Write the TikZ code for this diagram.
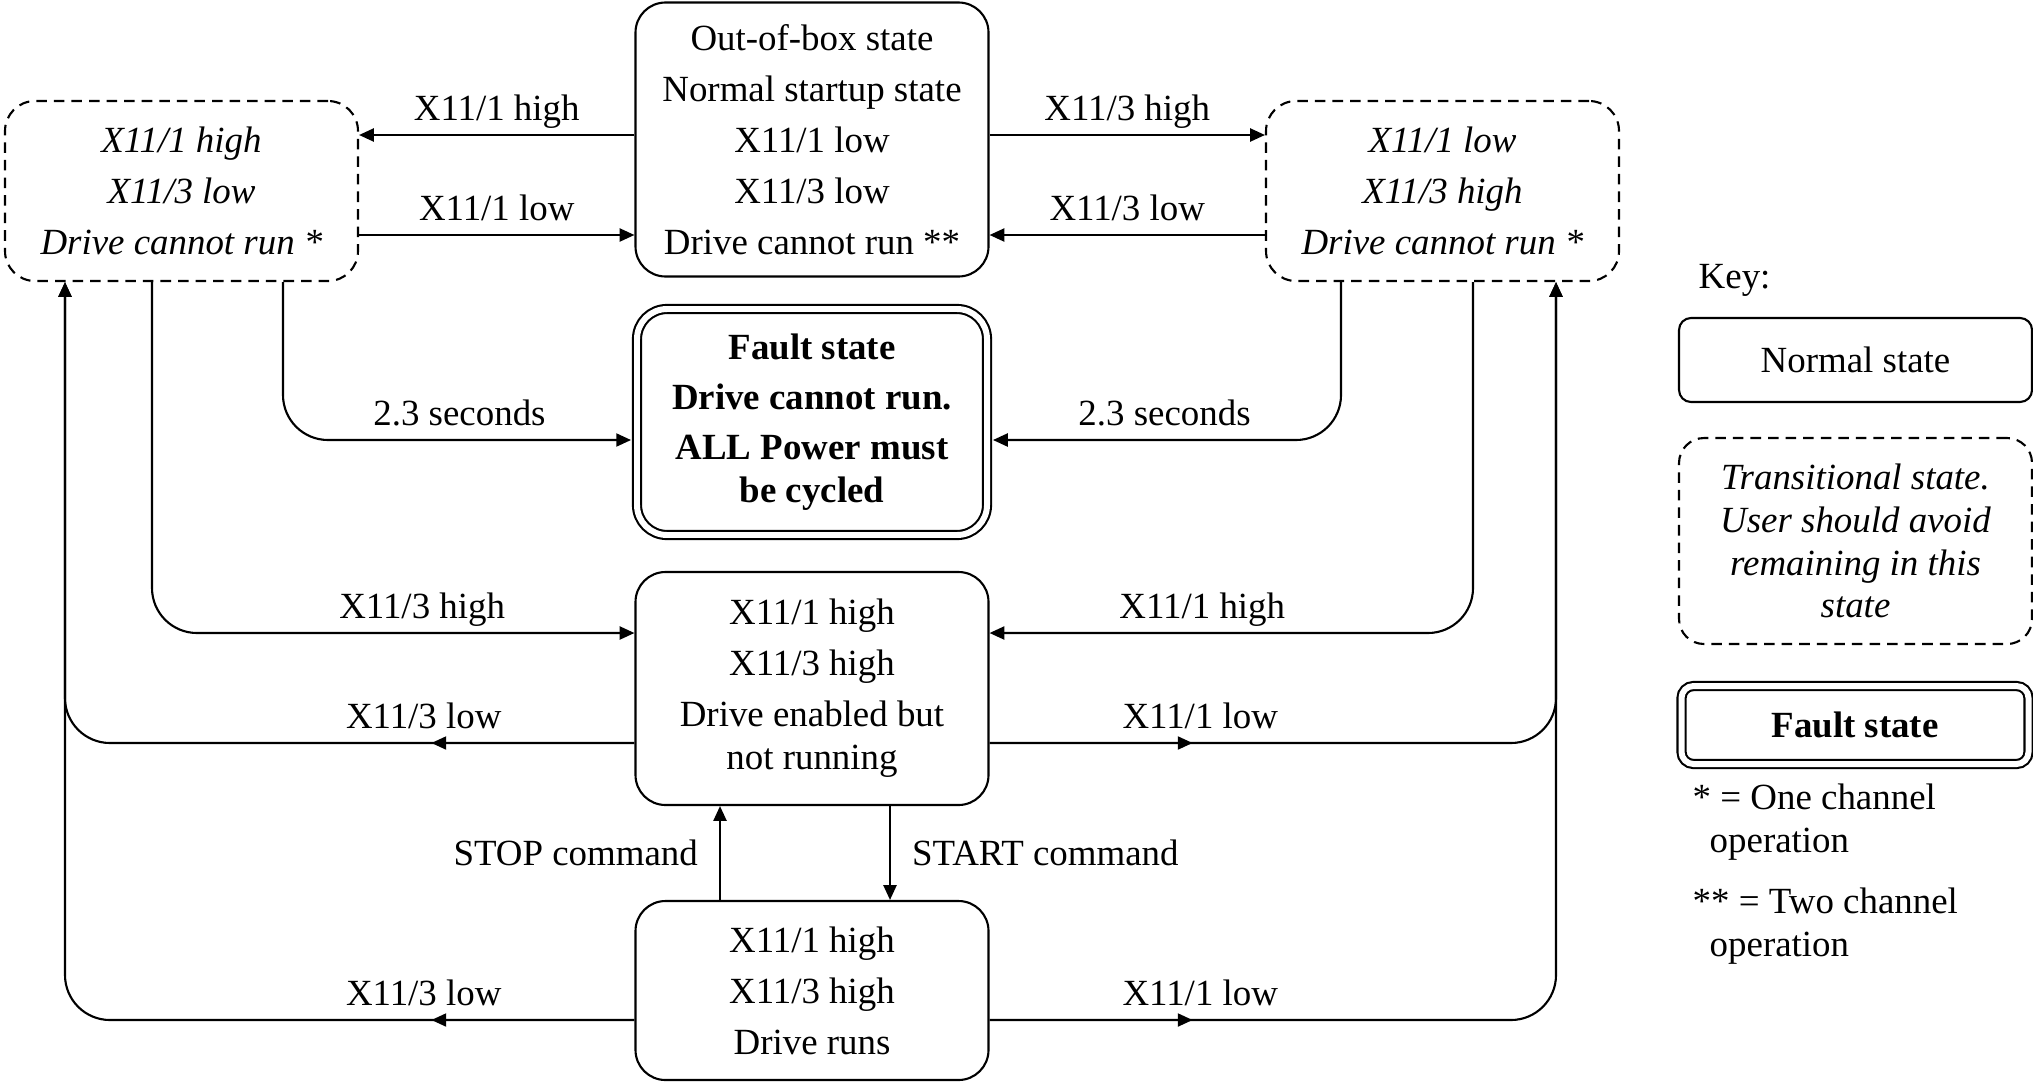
\documentclass[tikz,border=0pt]{standalone}
\usepackage{fontspec}
\setmainfont{Liberation Serif}
\usepackage{tikz}
\usetikzlibrary{arrows.meta,positioning,calc,decorations.markings}
\newcommand{\statefont}{\fontsize{10.5}{12.2}\selectfont}
\tikzset{
  state/.style={rectangle, rounded corners=0.3cm, draw=black, line width=0.6pt, align=center, minimum width=3.53cm, inner sep=0pt, font=\statefont},
  transit/.style={state, dash pattern=on 3pt off 2pt, font=\statefont\itshape},
  faultst/.style={state, double, double distance=1.7pt, font=\statefont\bfseries},
  conn/.style={line width=0.6pt, -{Triangle[length=4.2pt,width=3.7pt]}},
  bentconn/.style={conn, rounded corners=0.45cm},
  midarr/.style={bentconn, decoration={markings, mark=at position #1 with {\arrow{Triangle[length=4.2pt,width=3.7pt]}}}, postaction={decorate}},
  lbl/.style={font=\statefont, inner sep=0pt, text depth=0pt},
  note/.style={font=\statefont, align=left, inner sep=0pt, anchor=west}
}
\begin{document}
\begin{tikzpicture}
  \useasboundingbox (0,0) rectangle (20.33,10.84);

  \node[state, minimum height=2.74cm] (start) at (8.12,9.445) {Out-of-box state\\[2.3pt]Normal startup state\\[2.3pt]X11/1 low\\[2.3pt]X11/3 low\\[2.3pt]Drive cannot run **};
  \node[transit, minimum height=1.8cm] (oneA) at (1.815,8.93) {X11/1 high\\[2.3pt]X11/3 low\\[2.3pt]Drive cannot run *};
  \node[transit, minimum height=1.8cm] (oneB) at (14.425,8.93) {X11/1 low\\[2.3pt]X11/3 high\\[2.3pt]Drive cannot run *};
  \node[faultst, minimum width=3.5cm, minimum height=2.26cm] (fault) at (8.12,6.62) {Fault state\\[2pt]Drive cannot run.\\[2pt]ALL Power must\\be cycled};
  \node[state, minimum height=2.33cm] (enabled) at (8.12,3.955) {X11/1 high\\[2.3pt]X11/3 high\\[2.3pt]Drive enabled but\\not running};
  \node[state, minimum height=1.79cm] (runs) at (8.12,0.935) {X11/1 high\\[2.3pt]X11/3 high\\[2.3pt]Drive runs};

  \draw[conn] ([yshift=0.045cm]start.west) -- ([yshift=0.045cm]start.west -| oneA.east) node[lbl, midway, above=3.7pt] {X11/1 high};
  \draw[conn] ([yshift=-0.955cm]start.west -| oneA.east) -- ([yshift=-0.955cm]start.west) node[lbl, midway, above=3.7pt] {X11/1 low};
  \draw[conn] ([yshift=0.045cm]start.east) -- ([yshift=0.045cm]start.east -| oneB.west) node[lbl, midway, above=3.7pt] {X11/3 high};
  \draw[conn] ([yshift=-0.955cm]start.east -| oneB.west) -- ([yshift=-0.955cm]start.east) node[lbl, midway, above=3.7pt] {X11/3 low};

  \draw[bentconn, shorten >=1.4pt] ([xshift=1.015cm]oneA.south) |- ([yshift=-0.18cm]fault.west) node[lbl, pos=0.75, above=3.7pt] {2.3 seconds};
  \draw[bentconn, shorten >=1.4pt] ([xshift=-1.015cm]oneB.south) |- ([yshift=-0.18cm]fault.east) node[lbl, pos=0.75, above=3.7pt] {2.3 seconds};
  \draw[bentconn] ([xshift=-0.295cm]oneA.south) |- ([yshift=0.555cm]enabled.west) node[lbl, pos=0.78, above=3.7pt] {X11/3 high};
  \draw[bentconn] ([xshift=0.305cm]oneB.south) |- ([yshift=0.555cm]enabled.east) node[lbl, pos=0.78, above=3.7pt] {X11/1 high};

  \draw[midarr=2.03cm] ([yshift=-0.545cm]enabled.west) -| ([xshift=-1.165cm]oneA.south) node[lbl, pos=0.185, above=3.7pt] {X11/3 low};
  \draw[midarr=2.03cm] ([yshift=-0.295cm]runs.west) -| ([xshift=-1.165cm]oneA.south) node[lbl, pos=0.185, above=3.7pt] {X11/3 low};
  \draw[midarr=2.03cm] ([yshift=-0.545cm]enabled.east) -| ([xshift=1.135cm]oneB.south) node[lbl, pos=0.186, above=3.7pt] {X11/1 low};
  \draw[midarr=2.03cm] ([yshift=-0.295cm]runs.east) -| ([xshift=1.135cm]oneB.south) node[lbl, pos=0.186, above=3.7pt] {X11/1 low};

  \draw[conn] ([xshift=-0.92cm]runs.north) -- ([xshift=-0.92cm]enabled.south) node[lbl, midway, left=6pt] {STOP command};
  \draw[conn] ([xshift=0.78cm]enabled.south) -- ([xshift=0.78cm]runs.north) node[lbl, midway, right=6pt] {START command};

  \node[lbl, anchor=west] (keyhead) at (16.98,8.08) {Key:};
  \node[state, rounded corners=0.12cm, minimum height=0.84cm] (keynorm) at (18.555,7.24) {Normal state};
  \node[transit, rounded corners=0.25cm, minimum height=2.06cm] (keytrans) at (18.555,5.43) {Transitional state.\\User should avoid\\remaining in this\\state};
  \node[faultst, rounded corners=0.12cm, minimum width=3.47cm, minimum height=0.78cm] (keyfault) at (18.55,3.59) {Fault state};
  \node[note] (onech) at (16.92,2.615) {* = One channel\\\hspace*{0.17cm}operation};
  \node[note] (twoch) at (16.92,1.58) {** = Two channel\\\hspace*{0.17cm}operation};
\end{tikzpicture}
\end{document}
